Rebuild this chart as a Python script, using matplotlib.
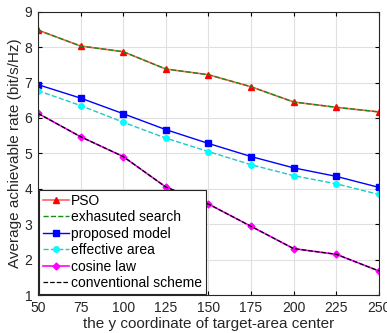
import numpy as np
import matplotlib
matplotlib.use('Agg')
import matplotlib.pyplot as plt

plt.rcParams['font.family'] = ['Liberation Sans', 'DejaVu Sans']

y_center = [50, 75, 100, 125, 150, 175, 200, 225, 250]
pso = [8.48, 8.03, 7.87, 7.38, 7.22, 6.88, 6.45, 6.30, 6.17]
exhaustive = [8.48, 8.03, 7.87, 7.38, 7.22, 6.88, 6.45, 6.30, 6.17]
proposed = [6.94, 6.56, 6.12, 5.67, 5.28, 4.91, 4.59, 4.35, 4.04]
effective = [6.77, 6.35, 5.88, 5.43, 5.05, 4.68, 4.37, 4.14, 3.84]
cosine = [6.13, 5.47, 4.91, 4.05, 3.57, 2.94, 2.31, 2.15, 1.68]
conventional = [6.13, 5.47, 4.91, 4.05, 3.57, 2.94, 2.31, 2.15, 1.68]

fig = plt.figure(figsize=(3.87, 3.33), dpi=100)
ax = fig.add_axes([0.098, 0.114, 0.881, 0.851])

ax.plot(y_center, pso, '-^', color='#ff6060', mfc='red', mec='red', ms=5, lw=1.2, label='PSO')
ax.plot(y_center, exhaustive, '--', color='#109010', lw=1.0, label='exhasuted search')
ax.plot(y_center, proposed, '-s', color='blue', ms=4, lw=1.0, label='proposed model')
ax.plot(y_center, effective, '--o', color='#20c8c8', mfc='cyan', mec='cyan', ms=4, lw=1.0, label='effective area')
ax.plot(y_center, cosine, '-D', color='magenta', ms=3.5, lw=1.2, label='cosine law')
ax.plot(y_center, conventional, '--', color='black', lw=0.9, label='conventional scheme')

ax.set_xlim(50, 250)
ax.set_ylim(1, 9)
ax.set_xticks(y_center)
ax.set_yticks(range(1, 10))
ax.grid(True, color='#e0e0e0', lw=0.8)
ax.set_axisbelow(True)
ax.tick_params(direction='in', top=True, right=True, labelsize=10, length=3, pad=4,
               labelcolor='#262626')
for s in ax.spines.values():
    s.set_color('#262626')
    s.set_linewidth(0.8)
ax.set_xlabel('the y coordinate of target-area center', fontsize=11, labelpad=2, color='#262626')
ax.set_ylabel('Average achievable rate (bit/s/Hz)', fontsize=11, labelpad=2, color='#262626')

leg = ax.legend(loc='lower left', fontsize=10, handlelength=1.9, handletextpad=0.15,
                borderpad=0.25, labelspacing=0.18, borderaxespad=0.1, fancybox=False,
                edgecolor='#262626', framealpha=1)
leg.get_frame().set_linewidth(0.8)

fig.savefig('out.png', dpi=100)
